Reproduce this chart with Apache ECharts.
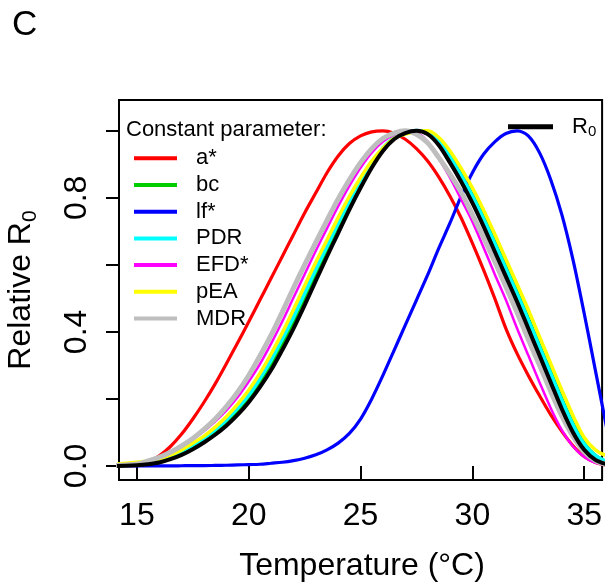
<!DOCTYPE html>
<html>
<head>
<meta charset="utf-8">
<script src="https://cdn.jsdelivr.net/npm/echarts@6/dist/echarts.min.js"></script>
<style>
html,body{margin:0;padding:0;background:#fff;}
#chart{width:605px;height:583px;}
</style>
</head>
<body>
<div id="chart"></div>
<script>
// Temperatures (°C) at which the curves were read
const temps = [14,14.5,15,15.5,16,16.5,17,17.5,18,18.5,19,19.5,20,20.5,21,21.5,22,22.5,23,23.5,24,24.5,25,25.5,26,26.5,27,27.5,28,28.5,29,29.5,30,30.5,31,31.5,32,32.5,33,33.5,34,34.5,35,35.5,36];
// Relative R0 with one parameter held constant
const aStar  = [0.0005,0.001,0.003,0.012,0.03,0.058,0.095,0.14,0.19,0.245,0.305,0.367,0.43,0.495,0.56,0.625,0.69,0.755,0.815,0.875,0.925,0.962,0.985,0.997,1.0,0.993,0.975,0.947,0.91,0.862,0.805,0.74,0.665,0.585,0.5,0.41,0.335,0.27,0.21,0.153,0.103,0.06,0.028,0.01,0.002];
const bc     = [0.001,0.001,0.003,0.007,0.013,0.025,0.039,0.057,0.077,0.101,0.129,0.163,0.203,0.25,0.304,0.365,0.431,0.502,0.575,0.646,0.716,0.785,0.848,0.902,0.947,0.977,0.994,1.0,0.995,0.972,0.926,0.871,0.81,0.743,0.67,0.595,0.52,0.442,0.362,0.282,0.202,0.128,0.069,0.032,0.013];
const lfStar = [0,0,0,0,0,0,0.0005,0.001,0.001,0.0015,0.002,0.003,0.004,0.005,0.008,0.011,0.016,0.023,0.033,0.048,0.068,0.097,0.14,0.2,0.27,0.345,0.42,0.495,0.57,0.65,0.725,0.805,0.875,0.93,0.967,0.992,1.0,0.985,0.935,0.855,0.75,0.615,0.455,0.285,0.115];
const pdr    = [0.001,0.002,0.004,0.008,0.015,0.029,0.044,0.063,0.084,0.109,0.138,0.173,0.212,0.262,0.317,0.38,0.445,0.516,0.588,0.657,0.725,0.791,0.852,0.905,0.948,0.979,0.995,1.0,0.994,0.967,0.921,0.865,0.804,0.736,0.662,0.587,0.512,0.434,0.354,0.274,0.194,0.121,0.064,0.03,0.012];
const efdStar= [0.001,0.002,0.005,0.014,0.025,0.04,0.058,0.079,0.104,0.133,0.166,0.205,0.252,0.304,0.365,0.431,0.502,0.572,0.642,0.709,0.775,0.836,0.89,0.935,0.968,0.988,0.998,0.995,0.967,0.917,0.86,0.795,0.729,0.652,0.572,0.495,0.41,0.33,0.25,0.173,0.107,0.058,0.027,0.009,0.002];
const pea    = [0.005,0.008,0.011,0.015,0.021,0.032,0.048,0.068,0.089,0.116,0.147,0.184,0.226,0.276,0.334,0.397,0.466,0.538,0.608,0.674,0.741,0.804,0.86,0.91,0.948,0.977,0.99,0.997,1.0,0.98,0.94,0.888,0.83,0.764,0.692,0.617,0.542,0.466,0.386,0.306,0.226,0.15,0.085,0.048,0.03];
const mdr    = [0.001,0.003,0.006,0.015,0.026,0.041,0.06,0.082,0.109,0.14,0.177,0.22,0.27,0.328,0.39,0.459,0.531,0.6,0.667,0.733,0.797,0.854,0.905,0.947,0.977,0.993,1.0,0.99,0.964,0.92,0.871,0.817,0.75,0.682,0.61,0.535,0.458,0.378,0.301,0.223,0.149,0.088,0.042,0.016,0.004];
const r0     = [0,0.0005,0.002,0.005,0.01,0.02,0.033,0.05,0.07,0.093,0.12,0.152,0.19,0.235,0.286,0.346,0.41,0.48,0.553,0.625,0.695,0.765,0.83,0.89,0.94,0.975,0.993,1.0,0.99,0.957,0.905,0.848,0.785,0.715,0.64,0.565,0.49,0.41,0.33,0.25,0.17,0.1,0.048,0.018,0.005];

const seriesNames = ['a*','bc','lf*','PDR','EFD*','pEA','MDR','R0'];
const seriesData  = [aStar,bc,lfStar,pdr,efdStar,pea,mdr,r0];
const seriesColors= ['#FF0000','#00CD00','#0000FF','#00FFFF','#FF00FF','#FFFF00','#BEBEBE','#000000'];
const seriesWidths= [3.2,3,3.2,4,2.5,3.5,5,4];

const xTicks = [15,20,25,30,35];
const yTicks = [0,0.2,0.4,0.6,0.8,1.0];
const yLabels = [0,0.4,0.8];

const FONT = 'Liberation Sans, Arial, Helvetica, sans-serif';

const chart = echarts.init(document.getElementById('chart'), null, {renderer:'canvas'});

const series = seriesNames.map((n,i)=>({
  name:n, type:'line', showSymbol:false, symbol:'none', smooth:0.3,
  data: temps.map((t,j)=>[t, seriesData[i][j]]),
  lineStyle:{color:seriesColors[i], width:seriesWidths[i]},
  itemStyle:{color:seriesColors[i]},
  clip:true, z:2+i
}));

chart.setOption({
  animation:false,
  backgroundColor:'#fff',
  grid:{left:119, top:100, right:-2, bottom:103, show:true, borderColor:'#000', borderWidth:2, backgroundColor:'transparent'},
  xAxis:{type:'value', min:14.2, max:35.8,
    axisLine:{show:false}, splitLine:{show:false},
    axisTick:{show:true, length:13, lineStyle:{color:'#000', width:2}, customValues:xTicks},
    axisLabel:{customValues:xTicks, fontSize:32, color:'#000', margin:20, fontFamily:FONT}
  },
  yAxis:{type:'value', min:-0.042, max:1.092,
    axisLine:{show:false}, splitLine:{show:false},
    axisTick:{show:true, length:13, lineStyle:{color:'#000', width:2}, customValues:yTicks},
    axisLabel:{customValues:yLabels, rotate:90, fontSize:32, color:'#000', margin:26, fontFamily:FONT,
      formatter:v=>Number(v).toFixed(1)}
  },
  legend:[{
    data:seriesNames.slice(0,7), orient:'vertical', left:129, top:142.3,
    icon:'rect', itemWidth:43, itemHeight:4, itemGap:4.7, selectedMode:false,
    textStyle:{fontSize:22, lineHeight:22, color:'#000', fontFamily:FONT, padding:[0,0,0,14]}
  },{
    data:['R0'], orient:'vertical', left:503, top:110.7,
    icon:'rect', itemWidth:45, itemHeight:5, selectedMode:false,
    formatter:()=>'{r|R}{s|0}',
    textStyle:{color:'#000', fontFamily:FONT, padding:[0,0,0,14],
      rich:{r:{fontSize:22, lineHeight:26, fontFamily:FONT, color:'#000'},
            s:{fontSize:15, lineHeight:15, verticalAlign:'bottom', fontFamily:FONT, color:'#000'}}}
  }],
  graphic:[
    {type:'text', x:12, y:25, style:{text:'C', font:'35px '+FONT, fill:'#000', align:'left', verticalAlign:'middle'}},
    {type:'text', x:126, y:130, style:{text:'Constant parameter:', font:'22px '+FONT, fill:'#000', align:'left', verticalAlign:'middle'}},
    {type:'text', x:362, y:566, style:{text:'Temperature (\u00B0C)', font:'32px '+FONT, fill:'#000', align:'center', verticalAlign:'middle'}},
    {type:'text', x:21, y:290, rotation:Math.PI/2,
      style:{text:'{a|Relative R}{b|0}', align:'center', verticalAlign:'middle', fill:'#000',
        rich:{a:{fontSize:32, lineHeight:40, fontFamily:FONT, fill:'#000'},
              b:{fontSize:21, lineHeight:21, verticalAlign:'bottom', fontFamily:FONT, fill:'#000'}}}}
  ],
  series:series
});
</script>
</body>
</html>
